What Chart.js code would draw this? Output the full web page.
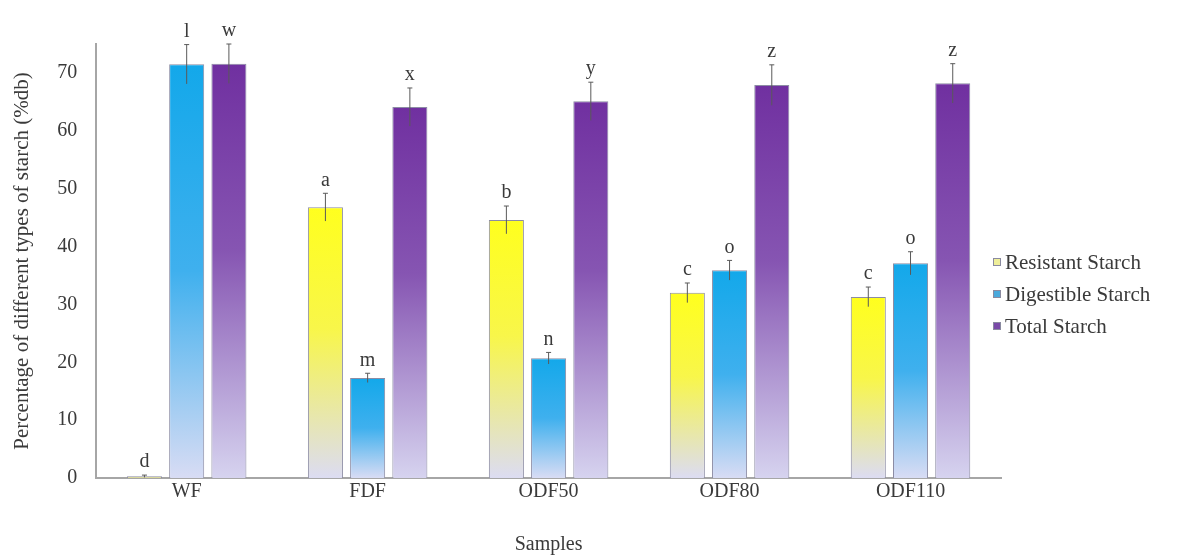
<!DOCTYPE html>
<html>
<head>
    <title>Starch types</title>
    <script src="https://cdn.jsdelivr.net/npm/chart.js"></script>
    <style>
        body {
            margin: 0;
            padding: 0;
            background: #ffffff;
        }

        .wrapper {
            width: 1178px;
            height: 559px;
        }
    </style>
</head>
<body>
    <div class="wrapper">
        <canvas id="starch-chart" width="1178" height="559"></canvas>
    </div>

    <script>
        // values
        const samples = ['WF', 'FDF', 'ODF50', 'ODF80', 'ODF110'];

        const resistant = [0.3, 46.8, 44.6, 32.0, 31.3];
        const resistantErr = [0.2, 2.4, 2.4, 1.7, 1.7];
        const resistantLetters = ['d', 'a', 'b', 'c', 'c'];

        const digestible = [71.5, 17.3, 20.7, 35.9, 37.1];
        const digestibleErr = [3.4, 0.8, 1.0, 1.7, 2.0];
        const digestibleLetters = ['l', 'm', 'n', 'o', 'o'];

        const total = [71.6, 64.1, 65.1, 67.9, 68.2];
        const totalErr = [3.4, 3.3, 3.3, 3.5, 3.4];
        const totalLetters = ['w', 'x', 'y', 'z', 'z'];

        const yTicks = [0, 10, 20, 30, 40, 50, 60, 70];

        const serif = '"Liberation Serif", "Times New Roman", serif';
        const textColor = '#3a3a3a';

        // vertical gradient from the bar top down to the baseline
        function barGradient(topColor, midColor, midStop, bottomColor) {
            return function (ctx) {
                const chart = ctx.chart;
                if (!chart.chartArea || ctx.type !== 'data') {
                    return topColor;
                }
                const value = ctx.dataset.data[ctx.dataIndex];
                const y = chart.scales.y;
                const top = y.getPixelForValue(value);
                const base = y.getPixelForValue(0);
                if (base - top < 1) {
                    return bottomColor;
                }
                const g = chart.ctx.createLinearGradient(0, top, 0, base);
                g.addColorStop(0, topColor);
                g.addColorStop(midStop, midColor);
                g.addColorStop(1, bottomColor);
                return g;
            };
        }

        // error bars and significance letters
        const errorBarPlugin = {
            id: 'errorBars',
            afterDatasetsDraw(chart) {
                const ctx = chart.ctx;
                const y = chart.scales.y;
                chart.data.datasets.forEach((ds, i) => {
                    const meta = chart.getDatasetMeta(i);
                    meta.data.forEach((bar, j) => {
                        const v = ds.data[j];
                        const e = ds.errors[j];
                        const yTop = y.getPixelForValue(v + e);
                        const yBot = y.getPixelForValue(Math.max(v - e, 0));
                        ctx.save();
                        ctx.strokeStyle = '#5a5a5a';
                        ctx.lineWidth = 1;
                        ctx.beginPath();
                        ctx.moveTo(bar.x, yBot);
                        ctx.lineTo(bar.x, yTop);
                        ctx.moveTo(bar.x - 2.5, yTop);
                        ctx.lineTo(bar.x + 2.5, yTop);
                        ctx.stroke();

                        ctx.fillStyle = textColor;
                        ctx.font = '20px ' + serif;
                        ctx.textAlign = 'center';
                        ctx.textBaseline = 'middle';
                        ctx.fillText(ds.letters[j], bar.x, yTop - 13);
                        ctx.restore();
                    });
                });
            }
        };

        // legend to the right of the plot
        const sideLegendPlugin = {
            id: 'sideLegend',
            afterDraw(chart) {
                const ctx = chart.ctx;
                const x = chart.chartArea.right - 8;
                const startY = 262;
                const step = 32;
                chart.data.datasets.forEach((ds, i) => {
                    const cy = startY + i * step;
                    ctx.save();
                    ctx.fillStyle = ds.legendColor;
                    ctx.fillRect(x, cy - 4, 8, 8);
                    ctx.strokeStyle = '#8a8aa0';
                    ctx.lineWidth = 1;
                    ctx.strokeRect(x + 0.5, cy - 3.5, 7, 7);
                    ctx.fillStyle = textColor;
                    ctx.font = '21px ' + serif;
                    ctx.textAlign = 'left';
                    ctx.textBaseline = 'middle';
                    ctx.fillText(ds.label, x + 12, cy + 1);
                    ctx.restore();
                });
            }
        };

        const ctx = document.getElementById('starch-chart').getContext('2d');
        const starchChart = new Chart(ctx, {
            type: 'bar',
            data: {
                labels: samples,
                datasets: [{
                    label: 'Resistant Starch',
                    data: resistant,
                    errors: resistantErr,
                    letters: resistantLetters,
                    backgroundColor: barGradient('#ffff1e', '#f8f64a', 0.45, '#dcdcf2'),
                    legendColor: '#eeee9a',
                    borderColor: '#8c8ca4',
                    borderWidth: 1
                }, {
                    label: 'Digestible Starch',
                    data: digestible,
                    errors: digestibleErr,
                    letters: digestibleLetters,
                    backgroundColor: barGradient('#13a8ea', '#3fb0ee', 0.5, '#d8dcf4'),
                    legendColor: '#4aa9dc',
                    borderColor: '#8c8ca4',
                    borderWidth: 1
                }, {
                    label: 'Total Starch',
                    data: total,
                    errors: totalErr,
                    letters: totalLetters,
                    backgroundColor: barGradient('#7030a0', '#8655b2', 0.45, '#d6d3ef'),
                    legendColor: '#7a4aa8',
                    borderColor: '#8c8ca4',
                    borderWidth: 1
                }]
            },
            options: {
                responsive: false,
                animation: false,
                categoryPercentage: 0.7,
                barPercentage: 0.83,
                layout: {
                    padding: { left: 10, right: 177, top: 44, bottom: 0 }
                },
                plugins: {
                    legend: { display: false },
                    tooltip: { enabled: false }
                },
                scales: {
                    x: {
                        grid: { display: false, drawTicks: false },
                        border: { display: true, color: '#a6a6a6', width: 2 },
                        ticks: {
                            color: textColor,
                            font: { family: serif, size: 20 },
                            padding: 2
                        },
                        title: {
                            display: true,
                            text: 'Samples',
                            color: textColor,
                            font: { family: serif, size: 20 },
                            padding: { top: 27, bottom: 2 }
                        }
                    },
                    y: {
                        min: 0,
                        max: 75,
                        afterBuildTicks: (scale) => {
                            scale.ticks = yTicks.map(v => ({ value: v }));
                        },
                        grid: { display: false, drawTicks: false },
                        border: { display: true, color: '#a6a6a6', width: 2 },
                        ticks: {
                            color: textColor,
                            font: { family: serif, size: 20 },
                            padding: 19
                        },
                        title: {
                            display: true,
                            text: 'Percentage of different types of starch (%db)',
                            color: textColor,
                            font: { family: serif, size: 21 },
                            padding: { top: 0, bottom: 3 }
                        }
                    }
                }
            },
            plugins: [errorBarPlugin, sideLegendPlugin]
        });
    </script>
</body>
</html>
